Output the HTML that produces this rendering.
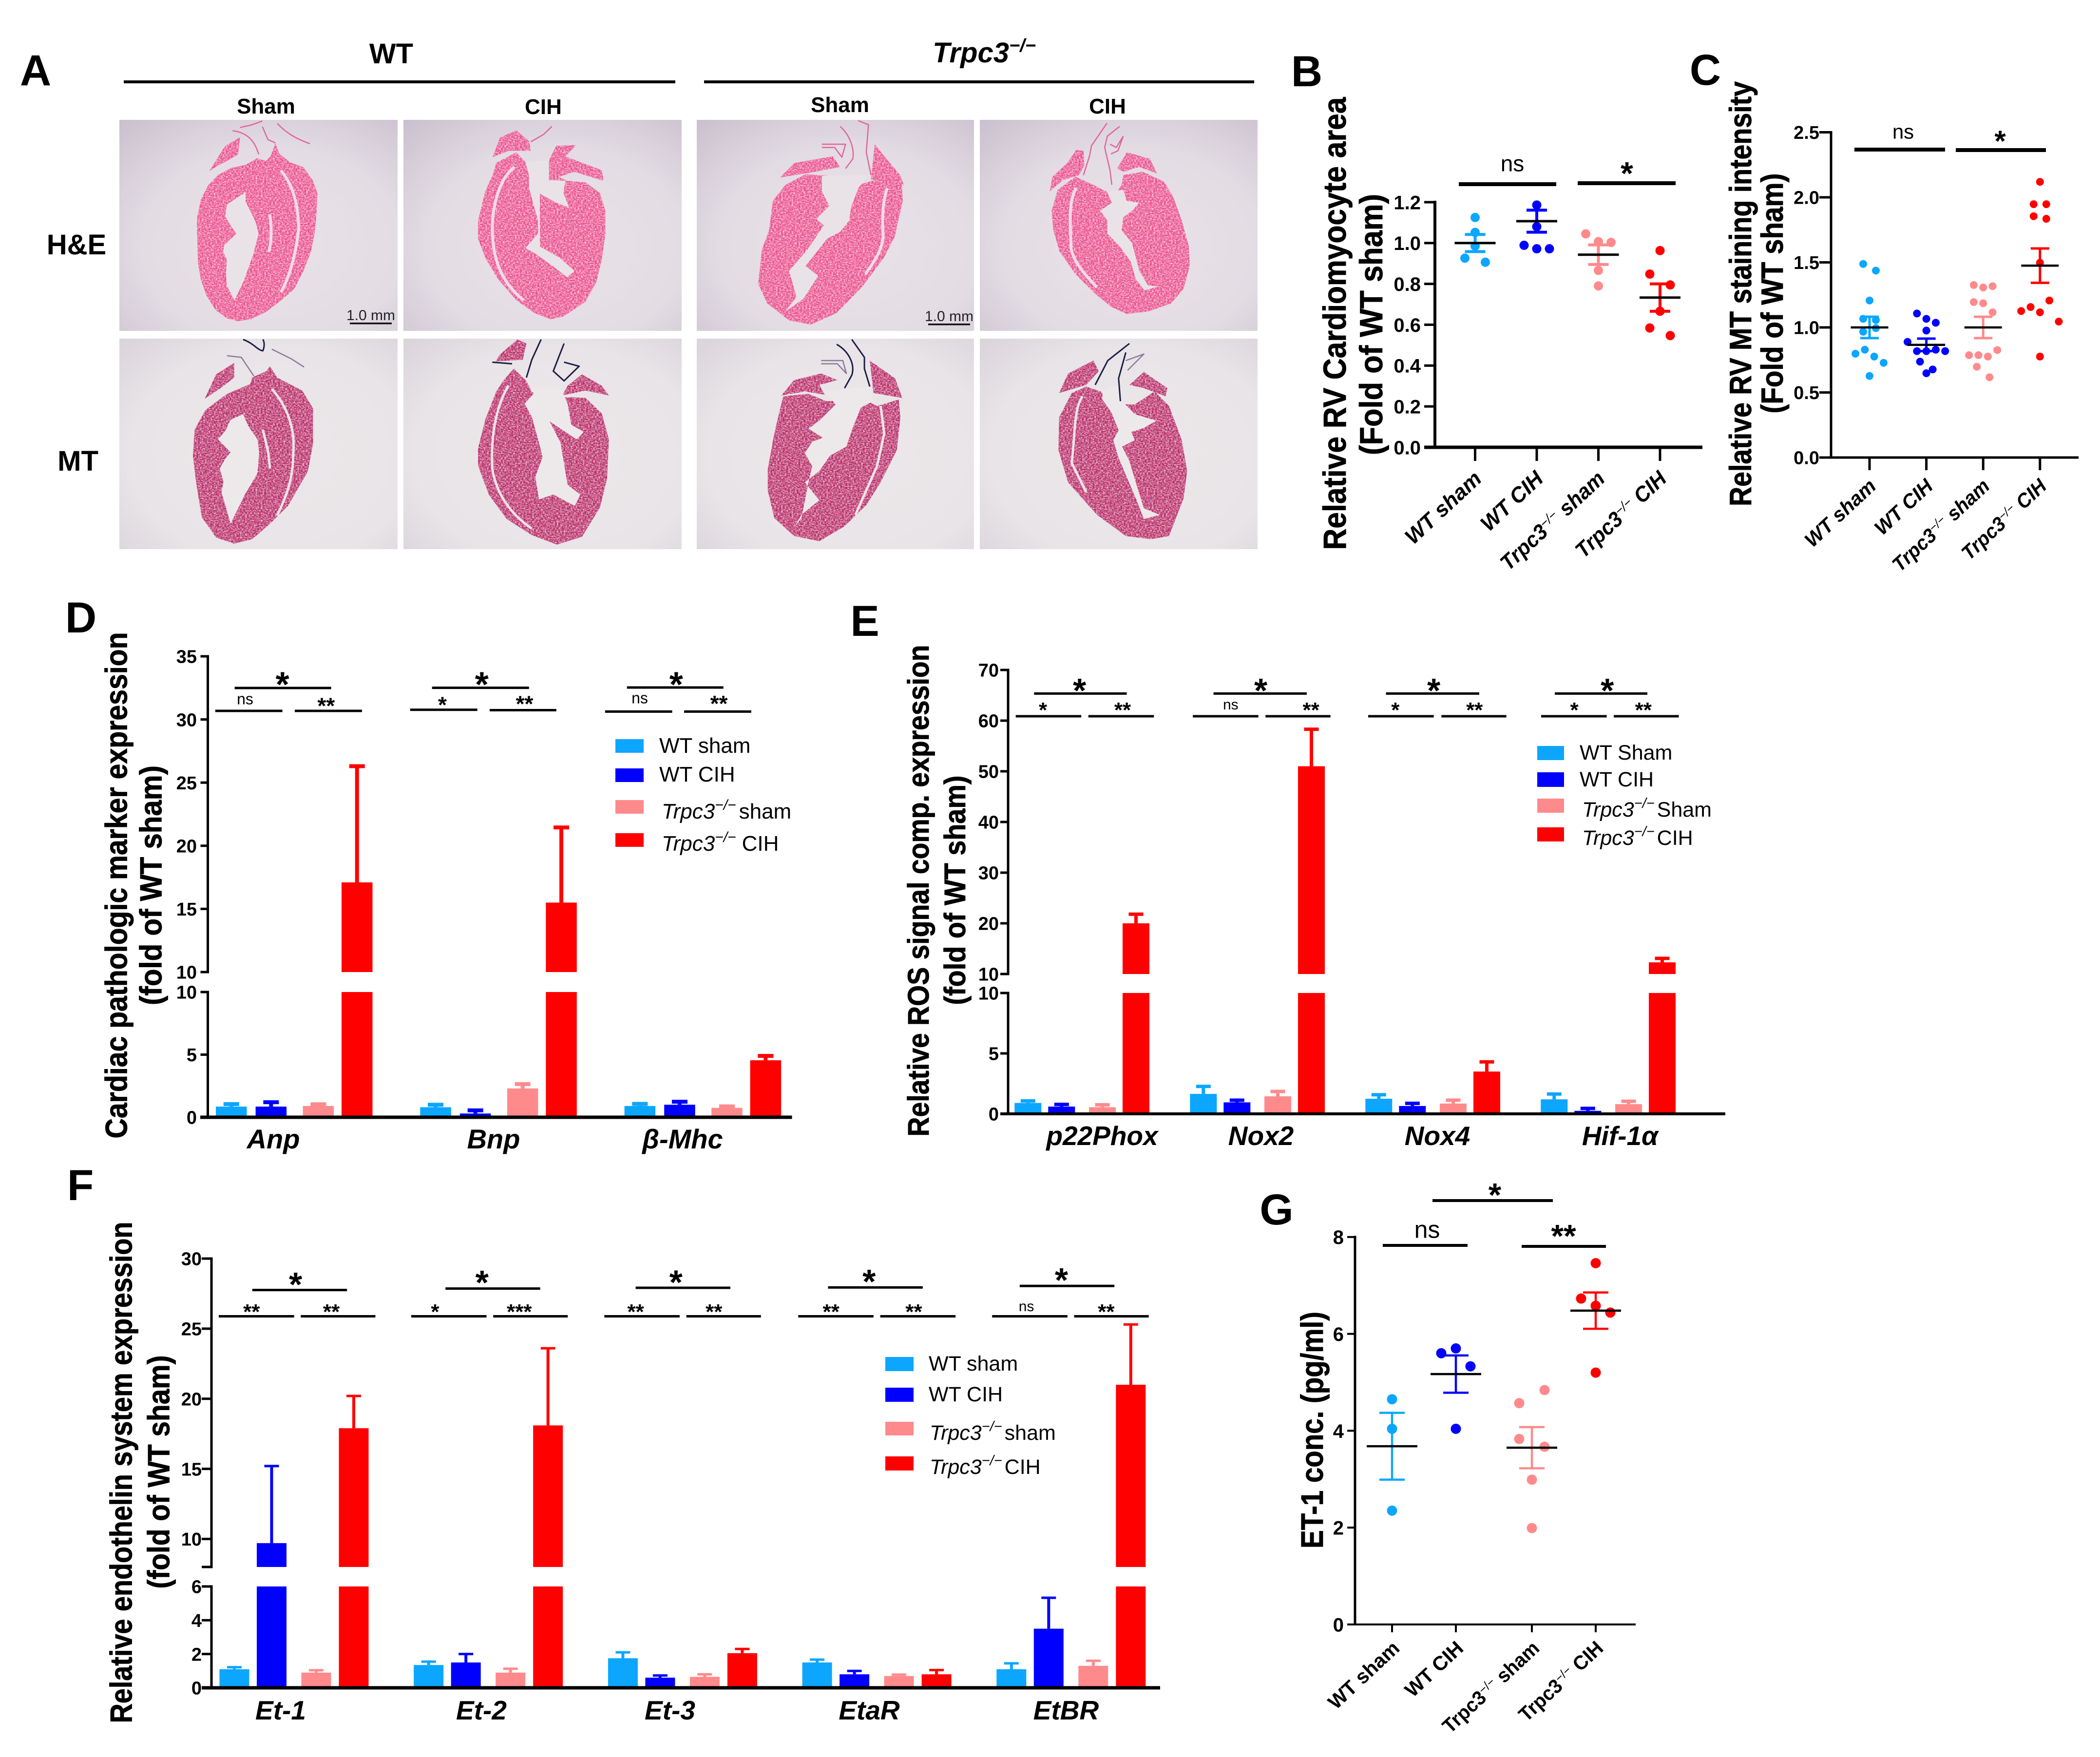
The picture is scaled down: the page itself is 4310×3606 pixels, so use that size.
<!DOCTYPE html>
<html lang="en">
<head>
<meta charset="utf-8">
<title>Trpc3 cardiac figure</title>
<style>
html,body{margin:0;padding:0;background:#fff;}
svg{display:block;font-family:"Liberation Sans",sans-serif;}
.nss path{vector-effect:non-scaling-stroke;stroke-linejoin:round;}
.he-cav{fill:#e9e3e8;stroke:none;}
.mt-cav{fill:#ede9eb;stroke:none;}
.he-slit{fill:none;stroke:#f0dce6;stroke-width:6;}
.mt-slit{fill:none;stroke:#ede3e8;stroke-width:5;}
.he-ves{fill:none;stroke:#e2659a;stroke-width:2.5;}
.mt-ves{fill:none;stroke:#1c1d45;stroke-width:3;}
.mt-ves2{fill:none;stroke:#8a7a98;stroke-width:2.5;}
</style>
</head>
<body>
<svg id="figure" xmlns="http://www.w3.org/2000/svg" width="4310" height="3606" viewBox="0 0 4310 3606">
<defs>
<radialGradient id="bg-top" cx=".55" cy=".6" r=".85">
<stop offset="0" stop-color="#e9e3e8"/><stop offset=".55" stop-color="#e3dce3"/><stop offset="1" stop-color="#c7bccc"/>
</radialGradient>
<radialGradient id="bg-bottom" cx=".55" cy=".55" r=".85">
<stop offset="0" stop-color="#ece8ea"/><stop offset=".6" stop-color="#e8e4e7"/><stop offset="1" stop-color="#d6cfd7"/>
</radialGradient>
<filter id="mottle" x="0" y="0" width="1" height="1" color-interpolation-filters="sRGB">
<feTurbulence type="fractalNoise" baseFrequency=".28 .4" numOctaves="2" seed="3" result="n"/>
<feColorMatrix in="n" type="matrix" values="0 0 0 0 1  0 0 0 0 1  0 0 0 0 1  1.6 0 0 0 -.55" result="w"/>
<feComposite in="w" in2="SourceAlpha" operator="in" result="c"/>
<feMerge><feMergeNode in="SourceGraphic"/><feMergeNode in="c"/></feMerge>
</filter>
</defs>

<rect width="4310" height="3606" fill="#fff"/>

<g id="panel-a">
<rect x="245" y="246" width="571" height="433" fill="url(#bg-top)"/>
<rect x="828" y="246" width="571" height="433" fill="url(#bg-top)"/>
<rect x="1430" y="246" width="569" height="433" fill="url(#bg-top)"/>
<rect x="2011" y="246" width="570" height="433" fill="url(#bg-top)"/>
<rect x="245" y="695" width="571" height="432" fill="url(#bg-bottom)"/>
<rect x="828" y="695" width="571" height="432" fill="url(#bg-bottom)"/>
<rect x="1430" y="695" width="569" height="432" fill="url(#bg-bottom)"/>
<rect x="2011" y="695" width="570" height="432" fill="url(#bg-bottom)"/>

<!-- H&E WT sham -->
<g>
<g filter="url(#mottle)" fill="#ea4e8b"><g transform="translate(240 240) scale(.3827 .3333)">
<path d="M850,160 L870,225 L930,280 L1000,310 L1050,390 L1075,470 L1070,600 L1060,720 L1040,830 L1000,950 L950,1060 L880,1130 L800,1200 L720,1245 L650,1258 L590,1240 L530,1190 L480,1100 L450,1000 L435,900 L430,720 L430,620 L450,510 L490,420 L540,360 L610,315 L690,295 L750,255 L800,270 L825,240 Z"/>
<path d="M495,335 L530,270 L580,180 L660,125 L650,230 L600,265 L540,300 Z"/>
</g></g>
<g class="nss" transform="translate(240 240) scale(.3827 .3333)">
<path class="he-cav" d="M690,465 L640,500 L590,540 L580,610 L600,650 L640,720 L575,790 L570,830 L590,880 L585,960 L590,1040 L630,1130 L680,1010 L730,850 L760,720 L745,650 L720,590 L690,520 Z"/>
<path class="he-slit" d="M880,330 C930,400 970,500 975,680 C965,800 940,950 880,1080"/>
<path class="he-slit" d="M820,600 C830,680 830,760 815,830"/>
<path class="he-ves" d="M620,85 C700,95 740,150 760,230 M660,65 L720,50 L780,25 M780,60 L810,140 L850,160 M860,40 C900,90 950,130 1035,165"/>
</g>
</g>
<!-- H&E WT CIH -->
<g>
<g filter="url(#mottle)" fill="#ea4e8b"><g transform="translate(828 246) scale(.7468 .3333)">
<path d="M255,265 L310,200 L335,260 L450,375 L500,385 L540,450 L555,560 L555,700 L545,860 L530,1000 L500,1120 L440,1210 L405,1228 L360,1190 L310,1110 L260,980 L225,850 L205,730 L205,620 L225,440 L245,340 Z"/>
<path d="M245,230 L265,110 L310,65 L345,130 L350,190 L290,190 Z"/>
<path d="M400,250 L420,160 L475,155 L445,225 L545,310 L550,375 L470,320 L400,370 Z"/>
</g></g>
<g class="nss" transform="translate(828 246) scale(.7468 .3333)">
<path class="he-cav" d="M335,260 L400,250 L400,370 L445,375 L440,450 L455,540 L420,510 L375,455 L375,560 L375,780 L430,850 L470,930 L450,970 L410,900 L360,820 L335,790 L370,700 L370,620 L345,420 L345,340 Z"/>
<path class="he-slit" d="M305,290 C260,370 240,560 245,720 C250,900 280,1020 330,1110"/>
<path class="he-ves" d="M350,135 L385,90 L408,40"/>
</g>
</g>
<!-- H&E KO sham -->
<g>
<g filter="url(#mottle)" fill="#ea4e8b"><g transform="translate(828 246) scale(.7468 .3333)">
<path d="M1105,335 L1170,345 L1250,400 L1290,375 L1370,395 L1372,500 L1350,720 L1320,850 L1260,1030 L1190,1190 L1120,1260 L1060,1235 L1000,1130 L975,1010 L985,800 L1005,680 L1015,500 L1050,400 Z"/>
<path d="M1035,355 L1075,265 L1180,225 L1200,290 L1130,320 Z"/>
<path d="M1295,150 L1335,260 L1365,340 L1375,400 L1285,370 Z"/>
</g></g>
<g class="nss" transform="translate(828 246) scale(.7468 .3333)">
<path class="he-cav" d="M1150,345 L1280,340 L1250,420 L1230,540 L1225,620 L1200,690 L1165,730 L1130,830 L1105,900 L1140,960 L1100,1100 L1050,1180 L1080,1090 L1060,930 L1110,800 L1155,650 L1135,610 L1170,530 L1150,440 Z"/>
<path class="he-slit" d="M1330,420 C1320,480 1315,560 1318,700 C1320,800 1290,880 1270,950"/>
<path class="he-ves" d="M1200,40 C1225,90 1240,170 1235,240 L1215,300 M1250,5 L1278,30 L1272,200 L1285,340 M1150,150 L1215,150 L1205,230 L1185,170 L1150,170"/>
</g>
</g>
<!-- H&E KO CIH -->
<g>
<g filter="url(#mottle)" fill="#ea4e8b"><g transform="translate(2011 246) scale(.3635 .3333)">
<path d="M540,350 L640,400 L720,445 L745,500 L800,400 L810,340 L920,320 L1040,380 L1090,470 L1140,620 L1180,780 L1185,900 L1150,1040 L1080,1130 L950,1180 L830,1195 L740,1150 L650,1070 L540,950 L450,810 L415,680 L405,560 L440,430 Z"/>
<path d="M395,440 L410,350 L490,270 L545,185 L585,190 L590,280 L560,340 L470,370 Z"/>
<path d="M775,300 L830,200 L960,240 L1000,330 L900,290 L810,320 Z"/>
</g></g>
<g class="nss" transform="translate(2011 246) scale(.3635 .3333)">
<path class="he-cav" d="M720,445 L810,430 L830,500 L900,510 L860,560 L810,600 L800,680 L860,760 L900,930 L950,1020 L1010,1025 L930,1050 L880,980 L850,870 L790,780 L720,700 L720,620 L680,560 L745,510 Z"/>
<path class="he-slit" d="M545,420 C500,500 510,620 515,790 C530,880 600,960 660,1030"/>
<path class="he-ves" d="M718,20 L630,160 L620,220 L585,340 M790,40 L720,100 L705,170 L735,310 L745,400 M810,100 L780,190 L740,210 M735,150 L770,170 L810,100"/>
</g>
</g>
<!-- MT WT sham -->
<g>
<g filter="url(#mottle)" fill="#b82a66"><g transform="translate(245 695) scale(.736 .3333)">
<path d="M420,170 L440,240 L510,320 L540,430 L540,650 L525,820 L470,1030 L420,1140 L370,1235 L320,1262 L270,1225 L230,1100 L215,900 L205,720 L210,560 L240,440 L300,340 L365,280 L370,240 L410,200 Z"/>
<path d="M238,370 L270,220 L320,150 L320,240 L285,300 Z"/>
</g></g>
<g class="nss" transform="translate(245 695) scale(.736 .3333)">
<path class="mt-cav" d="M345,465 L310,500 L295,570 L275,620 L310,700 L295,740 L280,800 L290,880 L285,950 L300,1060 L310,1140 L350,960 L385,830 L390,700 L385,620 L360,540 Z"/>
<path class="mt-slit" d="M425,310 C470,420 490,560 485,700 C485,850 470,950 440,1090"/>
<path class="mt-slit" d="M400,560 L415,700 L420,800"/>
<path class="mt-ves" d="M345,5 C375,30 385,70 400,75 C405,50 405,20 400,5"/>
<path class="mt-ves2" d="M300,105 L340,115 L375,230 M425,65 L480,125 L515,175"/>
</g>
</g>
<!-- MT WT CIH -->
<g>
<g filter="url(#mottle)" fill="#b82a66"><g transform="translate(245 695) scale(.736 .3333)">
<path d="M1100,185 L1135,260 L1150,330 L1240,360 L1300,365 L1345,460 L1365,620 L1360,860 L1340,1040 L1290,1220 L1220,1268 L1150,1210 L1080,1110 L1030,960 L1000,780 L1000,680 L1020,500 L1050,330 L1070,260 Z"/>
<path d="M1060,100 L1110,5 L1135,30 L1125,130 L1050,140 Z"/>
<path d="M1235,350 L1250,290 L1290,220 L1345,290 L1365,350 L1300,320 Z"/>
</g></g>
<g class="nss" transform="translate(245 695) scale(.736 .3333)">
<path class="mt-cav" d="M1150,300 L1230,300 L1250,400 L1260,530 L1295,575 L1275,620 L1200,510 L1230,640 L1250,900 L1285,960 L1270,1030 L1210,960 L1170,990 L1160,850 L1180,730 L1170,640 L1150,480 L1130,400 L1155,340 Z"/>
<path class="mt-slit" d="M1085,290 C1050,420 1035,600 1040,800 C1050,950 1090,1080 1150,1170"/>
<path class="mt-ves" d="M1176,5 L1150,130 L1135,240 M1240,30 L1210,200 L1240,260 L1282,170 L1240,145 M1040,145 L1095,155"/>
</g>
</g>
<!-- MT KO sham -->
<g>
<g filter="url(#mottle)" fill="#b82a66"><g transform="translate(1430 690) scale(.74 .3333)">
<path d="M240,370 L310,355 L360,400 L470,395 L500,430 L560,390 L565,500 L555,700 L510,900 L470,1040 L410,1170 L340,1262 L270,1230 L215,1120 L197,950 L197,820 L215,600 L230,460 Z"/>
<path d="M235,365 L270,270 L345,230 L390,270 L340,300 L355,360 L300,340 Z"/>
<path d="M480,150 L550,260 L570,380 L490,350 Z"/>
</g></g>
<g class="nss" transform="translate(1430 690) scale(.74 .3333)">
<path class="mt-cav" d="M355,340 L480,310 L490,400 L455,440 L430,580 L415,680 L370,735 L340,830 L300,900 L340,1010 L290,1100 L270,1180 L290,1120 L310,900 L320,800 L300,720 L320,650 L350,625 L310,570 L340,520 L385,420 Z"/>
<path class="mt-slit" d="M510,430 L520,600 L500,800 L440,1100"/>
<path class="mt-ves" d="M388,50 C420,90 440,170 430,240 L410,320 M430,20 L465,130 L465,200 L480,310"/>
<path class="mt-ves2" d="M345,150 L405,150 L415,230 L390,170 L345,170"/>
</g>
</g>
<!-- MT KO CIH -->
<g>
<g filter="url(#mottle)" fill="#b82a66"><g transform="translate(1430 690) scale(.74 .3333)">
<path d="M1080,310 L1120,340 L1160,420 L1215,420 L1270,340 L1310,430 L1345,640 L1360,830 L1350,1000 L1310,1230 L1260,1250 L1190,1230 L1110,1100 L1030,900 L1003,700 L1005,500 L1040,350 Z"/>
<path d="M1005,350 L1030,230 L1100,150 L1115,215 L1080,300 Z"/>
<path d="M1200,300 L1240,220 L1305,320 L1300,370 L1240,320 Z"/>
</g></g>
<g class="nss" transform="translate(1430 690) scale(.74 .3333)">
<path class="mt-cav" d="M1125,330 L1170,300 L1180,400 L1215,480 L1275,520 L1240,565 L1205,590 L1215,640 L1180,680 L1200,770 L1215,880 L1240,1060 L1285,1100 L1240,1125 L1220,1010 L1170,750 L1155,640 L1170,580 L1150,470 L1125,390 Z"/>
<path class="mt-slit" d="M1070,370 C1045,450 1050,600 1040,780 L1080,960"/>
<path class="mt-ves" d="M1200,45 L1140,150 L1105,300 M1190,100 L1170,260 L1175,400"/>
<path class="mt-ves2" d="M1190,150 L1240,110 L1195,210"/>
</g>
</g>

<rect x="718" y="662" width="86" height="3.5" fill="#111"/>
<rect x="1905" y="664" width="86" height="3.5" fill="#111"/>
<text x="761" y="657" font-size="30" text-anchor="middle" fill="#222">1.0 mm</text>
<text x="1948" y="659" font-size="30" text-anchor="middle" fill="#222">1.0 mm</text>
<rect x="254" y="165" width="1132" height="6" fill="#000"/>
<rect x="1445" y="165" width="1129" height="6" fill="#000"/>
<text x="803" y="130" font-size="58" font-weight="bold" text-anchor="middle">WT</text>
<text x="2020" y="128" font-size="58" font-weight="bold" font-style="italic" text-anchor="middle">Trpc3<tspan dy="-22" font-size="38">−/−</tspan></text>
<text x="546" y="233" font-size="44" font-weight="bold" text-anchor="middle">Sham</text>
<text x="1115" y="234" font-size="44" font-weight="bold" text-anchor="middle">CIH</text>
<text x="1724" y="230" font-size="44" font-weight="bold" text-anchor="middle">Sham</text>
<text x="2273" y="233" font-size="44" font-weight="bold" text-anchor="middle">CIH</text>
<text x="157" y="522" font-size="58" font-weight="bold" text-anchor="middle">H&amp;E</text>
<text x="160" y="966" font-size="58" font-weight="bold" text-anchor="middle">MT</text>
</g>

<g font-size="89" font-weight="bold" text-anchor="middle">
<text x="73" y="175">A</text>
<text x="2682" y="177">B</text>
<text x="3500" y="174">C</text>
<text x="166" y="1298">D</text>
<text x="1775" y="1305">E</text>
<text x="165" y="2463">F</text>
<text x="2620" y="2513">G</text>
</g>

<g font-weight="bold" text-anchor="middle" stroke="#000" stroke-width=".8">
<text transform="translate(2738 664) rotate(-90) scale(1 1.1)" dy=".36em" font-size="60" textLength="929" lengthAdjust="spacingAndGlyphs">Relative RV Cardiomyocyte area</text>
<text transform="translate(2813 666) rotate(-90) scale(1 1.1)" dy=".36em" font-size="60" textLength="536" lengthAdjust="spacingAndGlyphs">(Fold of WT sham)</text>
<text transform="translate(3571 603) rotate(-90) scale(1 1.15)" dy=".36em" font-size="55" textLength="872" lengthAdjust="spacingAndGlyphs">Relative RV MT staining intensity</text>
<text transform="translate(3636 602) rotate(-90) scale(1 1.15)" dy=".36em" font-size="55" textLength="493" lengthAdjust="spacingAndGlyphs">(Fold of WT sham)</text>
<text transform="translate(238 1817) rotate(-90) scale(1 1.12)" dy=".36em" font-size="56" textLength="1039" lengthAdjust="spacingAndGlyphs">Cardiac pathologic marker expression</text>
<text transform="translate(309 1817) rotate(-90) scale(1 1.12)" dy=".36em" font-size="56" textLength="492" lengthAdjust="spacingAndGlyphs">(fold of WT sham)</text>
<text transform="translate(1884 1828) rotate(-90) scale(1 1.12)" dy=".36em" font-size="55" textLength="1009" lengthAdjust="spacingAndGlyphs">Relative ROS signal comp. expression</text>
<text transform="translate(1959 1827) rotate(-90) scale(1 1.12)" dy=".36em" font-size="55" textLength="471" lengthAdjust="spacingAndGlyphs">(fold of WT sham)</text>
<text transform="translate(248 3022) rotate(-90) scale(1 1.12)" dy=".36em" font-size="56" textLength="1029" lengthAdjust="spacingAndGlyphs">Relative endothelin system expression</text>
<text transform="translate(325 3021) rotate(-90) scale(1 1.12)" dy=".36em" font-size="56" textLength="479" lengthAdjust="spacingAndGlyphs">(fold of WT sham)</text>
<text transform="translate(2692 2935) rotate(-90) scale(1 1.15)" dy=".36em" font-size="56" textLength="486" lengthAdjust="spacingAndGlyphs">ET-1 conc. (pg/ml)</text>
</g>

<g font-size="44">
<rect x="1263" y="1517" width="58" height="28" fill="#0ca6ff"/>
<rect x="1263" y="1577" width="58" height="28" fill="#0000ff"/>
<rect x="1263" y="1642" width="58" height="28" fill="#ff8a8c"/>
<rect x="1263" y="1710" width="58" height="28" fill="#ff0000"/>
<text x="1353" y="1545">WT sham</text>
<text x="1353" y="1604">WT CIH</text>
<text x="1358" y="1680"><tspan font-style="italic">Trpc3</tspan><tspan dy="-18" font-size="30" font-style="italic">−/−</tspan><tspan dy="18" dx="6">sham</tspan></text>
<text x="1358" y="1746"><tspan font-style="italic">Trpc3</tspan><tspan dy="-18" font-size="30" font-style="italic">−/−</tspan><tspan dy="18" dx="12">CIH</tspan></text>
</g>
<g font-size="43">
<rect x="3155" y="1531" width="55" height="29" fill="#0ca6ff"/>
<rect x="3155" y="1585" width="55" height="30" fill="#0000ff"/>
<rect x="3155" y="1639" width="55" height="29" fill="#ff8a8c"/>
<rect x="3155" y="1698" width="55" height="29" fill="#ff0000"/>
<text x="3242" y="1559">WT Sham</text>
<text x="3242" y="1614">WT CIH</text>
<text x="3247" y="1676"><tspan font-style="italic">Trpc3</tspan><tspan dy="-18" font-size="29" font-style="italic">−/−</tspan><tspan dy="18" dx="5">Sham</tspan></text>
<text x="3247" y="1734"><tspan font-style="italic">Trpc3</tspan><tspan dy="-18" font-size="29" font-style="italic">−/−</tspan><tspan dy="18" dx="5">CIH</tspan></text>
</g>
<g font-size="43">
<rect x="1817" y="2785" width="58" height="29" fill="#0ca6ff"/>
<rect x="1817" y="2848" width="58" height="29" fill="#0000ff"/>
<rect x="1817" y="2918" width="58" height="28" fill="#ff8a8c"/>
<rect x="1817" y="2989" width="58" height="29" fill="#ff0000"/>
<text x="1906" y="2813">WT sham</text>
<text x="1906" y="2876">WT CIH</text>
<text x="1908" y="2955"><tspan font-style="italic">Trpc3</tspan><tspan dy="-18" font-size="29" font-style="italic">−/−</tspan><tspan dy="18" dx="5">sham</tspan></text>
<text x="1908" y="3025"><tspan font-style="italic">Trpc3</tspan><tspan dy="-18" font-size="29" font-style="italic">−/−</tspan><tspan dy="18" dx="5">CIH</tspan></text>
</g>
<g id="charts"></g>
</svg>

<script>
// ---------- Panel B data ----------
const groupNames = ['WT sham', 'WT CIH', 'Trpc3−/− sham', 'Trpc3−/− CIH'];
const bTicks = [0, 0.2, 0.4, 0.6, 0.8, 1.0, 1.2];
const bWtSham = [1.125, 1.052, 0.985, 0.926, 0.906];
const bWtCih = [1.186, 1.08, 0.989, 0.972, 0.972];
const bKoSham = [1.045, 1.007, 1.003, 0.866, 0.79];
const bKoCih = [0.963, 0.848, 0.795, 0.666, 0.584, 0.547];
const bMeans = [1.0, 1.107, 0.943, 0.733];
const bSem = [0.042, 0.054, 0.048, 0.067];
// ---------- Panel C data ----------
const cTicks = [0, 0.5, 1.0, 1.5, 2.0, 2.5];
const cWtSham = [1.488, 1.437, 1.207, 1.066, 1.057, 0.967, 0.995, 0.798, 0.829, 0.776, 0.728, 0.627];
const cWtCih = [1.107, 1.066, 1.036, 0.976, 0.889, 0.818, 0.818, 0.829, 0.818, 0.737, 0.677, 0.648];
const cKoSham = [1.326, 1.307, 1.317, 1.195, 1.186, 1.116, 0.787, 0.787, 0.776, 0.826, 0.698, 0.617];
const cKoCih = [2.119, 1.947, 1.947, 1.855, 1.835, 1.497, 1.126, 1.157, 1.116, 1.207, 1.045, 0.776];
const cMeans = [1.0, 0.866, 1.0, 1.475];
const cSem = [0.082, 0.048, 0.082, 0.132];
// ---------- Panel G data ----------
const gTicks = [0, 2, 4, 6, 8];
const gWtSham = [4.65, 4.04, 2.35];
const gWtCih = [5.6, 5.7, 5.33, 4.04];
const gKoSham = [4.57, 4.84, 3.83, 3.67, 2.99, 1.99];
const gKoCih = [7.46, 6.73, 6.58, 6.44, 5.2];
const gMeans = [3.68, 5.17, 3.65, 6.48];
const gSem = [0.69, 0.385, 0.425, 0.375];
// ---------- Panel D data ----------
const dGenes = ['Anp', 'Bnp', 'β-Mhc'];
const dTicksLower = [0, 5, 10];
const dTicksUpper = [10, 15, 20, 25, 30, 35];
const dWtSham = [0.85, 0.8, 0.9];
const dWtShamErr = [0.2, 0.2, 0.17];
const dWtCih = [0.85, 0.3, 1.0];
const dWtCihErr = [0.35, 0.25, 0.24];
const dKoSham = [0.9, 2.3, 0.75];
const dKoShamErr = [0.14, 0.35, 0.12];
const dKoCih = [17.1, 15.5, 4.55];
const dKoCihErr = [9.2, 5.95, 0.35];
const dSigLabels = ['*', 'ns', '**', '*', '*', '**', '*', 'ns', '**'];
// ---------- Panel E data ----------
const eGenes = ['p22Phox', 'Nox2', 'Nox4', 'Hif-1α'];
const eTicksLower = [0, 5, 10];
const eTicksUpper = [10, 20, 30, 40, 50, 60, 70];
const eWtSham = [0.9, 1.65, 1.25, 1.2];
const eWtShamErr = [0.17, 0.62, 0.33, 0.44];
const eWtCih = [0.6, 0.95, 0.65, 0.25];
const eWtCihErr = [0.18, 0.18, 0.22, 0.2];
const eKoSham = [0.55, 1.45, 0.85, 0.8];
const eKoShamErr = [0.2, 0.4, 0.28, 0.24];
const eKoCih = [20, 51, 3.5, 12.3];
const eKoCihErr = [1.8, 7.3, 0.8, 0.78];
const eSigLabels = ['*', '*', '**', '*', 'ns', '**', '*', '*', '**', '*', '*', '**'];
// ---------- Panel F data ----------
const fGenes = ['Et-1', 'Et-2', 'Et-3', 'EtaR', 'EtBR'];
const fTicksLower = [0, 2, 4, 6];
const fTicksUpper = [8, 10, 15, 20, 25, 30];
const fTickLabelsUpper = ['', '10', '15', '20', '25', '30'];
const fWtSham = [1.1, 1.35, 1.75, 1.5, 1.1];
const fWtShamErr = [0.12, 0.2, 0.35, 0.17, 0.35];
const fWtCih = [9.7, 1.5, 0.6, 0.8, 3.5];
const fWtCihErr = [5.5, 0.5, 0.13, 0.2, 1.83];
const fKoSham = [0.9, 0.9, 0.65, 0.7, 1.3];
const fKoShamErr = [0.14, 0.23, 0.15, 0.08, 0.3];
const fKoCih = [17.9, 18.1, 2.05, 0.8, 21.0];
const fKoCihErr = [2.3, 5.5, 0.25, 0.25, 4.3];
const fSigLabels = ['*', '**', '**', '*', '*', '***', '*', '**', '**', '*', '**', '**', '*', 'ns', '**'];

const COLORS = ['#0ca6ff', '#0000ff', '#ff8a8c', '#ff0000'];
const SERIES_KEYS = ['wt-sham', 'wt-cih', 'ko-sham', 'ko-cih'];
const root = document.getElementById('charts');
const SVGNS = 'http://www.w3.org/2000/svg';

function mk(parent, tag, name, attrs, text) {
  const el = document.createElementNS(SVGNS, tag);
  
  
  for (const k in attrs) el.setAttribute(k, attrs[k]);
  if (text !== undefined) el.textContent = text;
  parent.appendChild(el);
  return el;
}
function hLine(p, name, x1, x2, y, w, color) {
  return mk(p, 'rect', name, { x: x1, y: y - w / 2, width: x2 - x1, height: w, fill: color });
}
function vLine(p, name, x, y1, y2, w, color) {
  return mk(p, 'rect', name, { x: x - w / 2, y: Math.min(y1, y2), width: w, height: Math.abs(y2 - y1), fill: color });
}
function sigLabel(p, x, y, label, size) {
  const ns = label === 'ns';
  mk(p, 'text', 'significance-label', {
    x: x, y: y + (ns ? 0.27 : 0.55) * size, 'font-size': size,
    'font-weight': ns ? 'normal' : 'bold', 'text-anchor': 'middle'
  }, label);
}
function bracket(p, x1, x2, y, w) { hLine(p, 'significance-bracket', x1, x2, y, w, '#000'); }

function swarmOffsets(values, yScale, cfg) {
  const out = [];
  let i = 0;
  while (i < values.length) {
    let j = i + 1;
    while (j < values.length && Math.abs(yScale(values[i]) - yScale(values[j])) <= cfg.binPx) j++;
    const n = j - i;
    for (let m = 0; m < n; m++) {
      if (n === 1) out.push(0);
      else if (n === 2) out.push(m === 0 ? -cfg.pairPx : cfg.pairPx);
      else out.push((m - (n - 1) / 2) * cfg.stepPx);
    }
    i = j;
  }
  return out;
}

function addCategoryLabel(p, x, y, label, cfg) {
  const idx = label.indexOf('−/−');
  const squeeze = idx < 0 ? '' : ' scale(.96 1)';
  const attrs = {
    transform: 'translate(' + x + ' ' + y + ') rotate(' + cfg.angle + ')' + squeeze,
    'text-anchor': 'end', 'font-size': cfg.labelSize, 'font-weight': 'bold'
  };
  if (cfg.italic) attrs['font-style'] = 'italic';
  const t = mk(p, 'text', 'x-tick-label', attrs);
  if (idx < 0) { t.textContent = label; return; }
  const a = document.createElementNS(SVGNS, 'tspan');
  a.textContent = label.slice(0, idx);
  const b = document.createElementNS(SVGNS, 'tspan');
  b.setAttribute('dy', -cfg.labelSize * 0.32);
  b.setAttribute('font-size', cfg.labelSize * 0.62);
  b.setAttribute('font-weight', 'normal');
  b.textContent = '−/−';
  const c = document.createElementNS(SVGNS, 'tspan');
  c.setAttribute('dy', cfg.labelSize * 0.32);
  c.textContent = label.slice(idx + 3);
  t.appendChild(a); t.appendChild(b); t.appendChild(c);
}

function scatterChart(cfg, series, means, sem, ticks, cats, tickDigits) {
  const g = mk(root, 'g', cfg.name, {});
  const y = v => cfg.y0 - v * cfg.k;
  const x = i => cfg.x0 + i * cfg.dx + (i >= 2 ? cfg.gap : 0);
  vLine(g, 'y-axis-line', cfg.axisX, y(ticks[ticks.length - 1]) - cfg.yAxisW / 2, cfg.y0 + cfg.xAxisW / 2, cfg.yAxisW, '#000');
  hLine(g, 'x-axis-line', cfg.axisX - cfg.tickLen, cfg.xEnd, cfg.y0, cfg.xAxisW, '#000');
  ticks.forEach(t => {
    hLine(g, 'y-tick', cfg.axisX - cfg.tickLen, cfg.axisX, y(t), cfg.tickW, '#000');
    mk(g, 'text', 'y-tick-label', {
      x: cfg.tickLabelX, y: y(t) + cfg.tickSize * 0.36, 'font-size': cfg.tickSize,
      'font-weight': 'bold', 'text-anchor': 'end'
    }, t.toFixed(tickDigits));
  });
  cats.forEach((c, i) => {
    vLine(g, 'x-tick', x(i), cfg.y0, cfg.y0 + cfg.xTickLen, cfg.tickW, '#000');
    addCategoryLabel(g, x(i) + cfg.labelDx, cfg.y0 + cfg.labelDy, c, cfg);
  });
  series.forEach((vals, i) => {
    const off = swarmOffsets(vals, y, cfg);
    vals.forEach((v, j) => {
      mk(g, 'circle', 'dot-' + SERIES_KEYS[i], { cx: x(i) + off[j], cy: y(v), r: cfg.r, fill: COLORS[i] });
    });
    const top = y(means[i] + sem[i]), bot = y(means[i] - sem[i]);
    vLine(g, 'error-bar-' + SERIES_KEYS[i], x(i), top, bot, cfg.errW, COLORS[i]);
    hLine(g, 'error-cap-top-' + SERIES_KEYS[i], x(i) - cfg.capHalf, x(i) + cfg.capHalf, top, cfg.errW, COLORS[i]);
    hLine(g, 'error-cap-bottom-' + SERIES_KEYS[i], x(i) - cfg.capHalf, x(i) + cfg.capHalf, bot, cfg.errW, COLORS[i]);
    hLine(g, 'mean-line-' + SERIES_KEYS[i], x(i) - cfg.meanHalf, x(i) + cfg.meanHalf, y(means[i]), cfg.meanW, '#000');
  });
  return g;
}

function brokenBarChart(cfg, genes, means, errs, lowTicks, upTicks, upLabels) {
  const g = mk(root, 'g', cfg.name, {});
  const yLow = v => cfg.lowY0 - v * cfg.lowK;
  const yUp = v => cfg.upY0 - (v - cfg.upMin) * cfg.upK;
  const lowMax = lowTicks[lowTicks.length - 1];
  const yVal = v => (v <= lowMax ? yLow(v) : yUp(v));
  vLine(g, 'y-axis-lower', cfg.axisX, yLow(lowMax) - cfg.axisW / 2, cfg.lowY0, cfg.axisW, '#000');
  vLine(g, 'y-axis-upper', cfg.axisX, yUp(upTicks[upTicks.length - 1]) - cfg.axisW / 2, cfg.upY0 + cfg.axisW / 2, cfg.axisW, '#000');
  const tick = (v, yf, label) => {
    hLine(g, 'y-tick', cfg.axisX - cfg.tickLen, cfg.axisX, yf(v), cfg.axisW, '#000');
    if (label !== '') {
      mk(g, 'text', 'y-tick-label', {
        x: cfg.tickLabelX, y: yf(v) + cfg.tickSize * 0.36, 'font-size': cfg.tickSize,
        'font-weight': 'bold', 'text-anchor': 'end'
      }, label);
    }
  };
  lowTicks.forEach(t => tick(t, yLow, String(t)));
  upTicks.forEach((t, i) => tick(t, yUp, upLabels ? upLabels[i] : String(t)));
  genes.forEach((gene, gi) => {
    means.forEach((ser, si) => {
      const v = ser[gi];
      const top = v + errs[si][gi];
      const x = cfg.barX0 + gi * cfg.groupStep + cfg.barOffsets[si];
      const cx = x + cfg.barW / 2;
      const color = COLORS[si];
      const key = SERIES_KEYS[si];
      vLine(g, 'error-bar-' + key, cx, yVal(v), yVal(top), cfg.errW, color);
      hLine(g, 'error-cap-' + key, cx - cfg.capHalf, cx + cfg.capHalf, yVal(top), cfg.capW, color);
      mk(g, 'rect', 'bar-' + key, { x: x, y: yLow(Math.min(v, lowMax)), width: cfg.barW, height: cfg.lowY0 - yLow(Math.min(v, lowMax)), fill: color });
      if (v > lowMax) {
        mk(g, 'rect', 'bar-upper-' + key, { x: x, y: yUp(v), width: cfg.barW, height: cfg.upY0 - yUp(v), fill: color });
      }
    });
    mk(g, 'text', 'gene-label', {
      x: cfg.labelX[gi], y: cfg.labelY, 'font-size': cfg.labelSize, 'font-weight': 'bold',
      'font-style': 'italic', 'text-anchor': 'middle'
    }, gene);
  });
  hLine(g, 'x-axis-line', cfg.xStart, cfg.xEnd, cfg.lowY0, cfg.xAxisW, '#000');
  return g;
}

const chartB = scatterChart({
  name: 'chart-b-cardiomyocyte-area', y0: 918, k: 419.2, x0: 3027.5, dx: 126.5, gap: 0, axisX: 2945, xEnd: 3494,
  yAxisW: 6, xAxisW: 7, tickW: 5, tickLen: 22, xTickLen: 28, tickSize: 40, tickLabelX: 2916,
  r: 9.5, errW: 6, capHalf: 21, meanHalf: 42, meanW: 5, binPx: 23, stepPx: 26, pairPx: 21,
  angle: -43, labelSize: 44, italic: true, labelDx: 16, labelDy: 68
}, [bWtSham, bWtCih, bKoSham, bKoCih], bMeans, bSem, bTicks, groupNames, 1);

const chartC = scatterChart({
  name: 'chart-c-mt-staining', y0: 939, k: 267, x0: 3837, dx: 116.6, gap: 0, axisX: 3758, xEnd: 4266,
  yAxisW: 5, xAxisW: 5, tickW: 5, tickLen: 24, xTickLen: 26, tickSize: 38, tickLabelX: 3734,
  r: 8, errW: 5, capHalf: 19, meanHalf: 38.5, meanW: 4.5, binPx: 22, stepPx: 19.3, pairPx: 13,
  angle: -43, labelSize: 41, italic: true, labelDx: 16, labelDy: 62
}, [cWtSham, cWtCih, cKoSham, cKoCih], cMeans, cSem, cTicks, groupNames, 1);

const chartG = scatterChart({
  name: 'chart-g-et1-concentration', y0: 3334, k: 99.4, x0: 2857, dx: 131, gap: 25, axisX: 2781, xEnd: 3357,
  yAxisW: 5, xAxisW: 4, tickW: 4, tickLen: 16, xTickLen: 16, tickSize: 40, tickLabelX: 2758,
  r: 10.5, errW: 4.5, capHalf: 26, meanHalf: 52, meanW: 4.5, binPx: 40, stepPx: 30, pairPx: 26,
  angle: -43, labelSize: 41, italic: false, labelDx: 18, labelDy: 52
}, [gWtSham, gWtCih, gKoSham, gKoCih], gMeans, gSem, gTicks, groupNames, 0);

const chartD = brokenBarChart({
  name: 'chart-d-cardiac-markers', axisX: 426.5, axisW: 5, xAxisW: 7, xStart: 411, xEnd: 1625.5, tickLen: 15,
  tickLabelX: 404, tickSize: 38, lowY0: 2293, lowK: 25.7, upY0: 1995, upMin: 10, upK: 25.92,
  barX0: 443, groupStep: 419.3, barOffsets: [0, 81.6, 178.6, 258], barW: 63.5, errW: 8, capW: 8, capHalf: 16,
  labelX: [561, 1013, 1401], labelY: 2357, labelSize: 56
}, dGenes, [dWtSham, dWtCih, dKoSham, dKoCih], [dWtShamErr, dWtCihErr, dKoShamErr, dKoCihErr], dTicksLower, dTicksUpper);

const chartE = brokenBarChart({
  name: 'chart-e-ros-signal', axisX: 2069, axisW: 5, xAxisW: 6, xStart: 2053, xEnd: 3541, tickLen: 16,
  tickLabelX: 2050, tickSize: 38, lowY0: 2286, lowK: 24.8, upY0: 1999, upMin: 10, upK: 10.4,
  barX0: 2082.3, groupStep: 360, barOffsets: [0, 69, 152.7, 221.7], barW: 55, errW: 7, capW: 7, capHalf: 15,
  labelX: [2262, 2588, 2950, 3325], labelY: 2350, labelSize: 55
}, eGenes, [eWtSham, eWtCih, eKoSham, eKoCih], [eWtShamErr, eWtCihErr, eKoShamErr, eKoCihErr], eTicksLower, eTicksUpper);

const chartF = brokenBarChart({
  name: 'chart-f-endothelin-system', axisX: 434, axisW: 5, xAxisW: 7, xStart: 414, xEnd: 2381, tickLen: 20,
  tickLabelX: 414, tickSize: 38, lowY0: 3464, lowK: 34.67, upY0: 3216, upMin: 8, upK: 28.77,
  barX0: 450.5, groupStep: 398.7, barOffsets: [0, 76.5, 168, 245], barW: 61, errW: 6, capW: 5, capHalf: 15,
  labelX: [576, 988, 1375, 1784, 2188], labelY: 3529, labelSize: 55
}, fGenes, [fWtSham, fWtCih, fKoSham, fKoCih], [fWtShamErr, fWtCihErr, fKoShamErr, fKoCihErr], fTicksLower, fTicksUpper, fTickLabelsUpper);

bracket(chartB, 2994, 3194, 378, 8);
bracket(chartB, 3238, 3439, 376, 8);
sigLabel(chartB, 3104, 339, 'ns', 46);
sigLabel(chartB, 3339, 342, '*', 66);

bracket(chartC, 3806, 3992, 307, 8);
bracket(chartC, 4014, 4199, 308, 8);
sigLabel(chartC, 3906, 273, 'ns', 42);
sigLabel(chartC, 4105, 277, '*', 60);

bracket(chartG, 2940, 3187, 2464, 6);
bracket(chartG, 2838, 3012, 2556, 6);
bracket(chartG, 3123, 3296, 2558, 6);
sigLabel(chartG, 3068, 2438, '*', 68);
sigLabel(chartG, 2929, 2527, 'ns', 50);
sigLabel(chartG, 3209, 2523, '**', 66);

[[481.6, 679.6, 1412], [886.7, 1085.7, 1411.6], [1286.7, 1484.7, 1411],
 [441.8, 579.6, 1459], [605, 742.9, 1459], [841.8, 979.6, 1456.7], [1005, 1141.8, 1457.5],
 [1241.8, 1379.6, 1460.4], [1404, 1541.8, 1460.4]].forEach(b => bracket(chartD, b[0], b[1], b[2], 5));
const dSigX = [579.6, 503, 669.4, 988.8, 908, 1076.5, 1387.8, 1313, 1475.5];
const dSigY = [1390, 1437, 1439, 1390, 1437, 1435, 1390, 1435, 1434.5];
dSigLabels.forEach((l, i) => sigLabel(chartD, dSigX[i], dSigY[i], l, i % 3 === 0 ? 72 : (l === 'ns' ? 32 : 46)));

[[2122.3, 2312.5, 1423.4], [2490.6, 2682, 1423.4], [2844.5, 3035.9, 1423.4], [3191, 3381, 1423.4],
 [2084.7, 2219.2, 1470], [2233.8, 2368.3, 1470], [2448.2, 2582.7, 1470], [2597.3, 2730.6, 1470],
 [2808, 2942.6, 1470], [2958.4, 3091.6, 1470], [3163, 3297.6, 1470], [3312.2, 3445.5, 1470]
].forEach(b => bracket(chartE, b[0], b[1], b[2], 5));
const eSigX = [2215.6, 2140.5, 2304, 2587.6, 2525.8, 2690.6, 2942.6, 2863.8, 3026.2, 3298.8, 3231, 3372.8];
eSigLabels.forEach((l, i) => sigLabel(chartE, eSigX[i], i % 3 === 0 ? 1402.7 : 1447.9, l, i % 3 === 0 ? 70 : (l === 'ns' ? 30 : 44)));

[[517.8, 712.2, 2647.6], [914.3, 1108.7, 2644.6], [1304.6, 1499, 2643], [1699.5, 1893.9, 2642.3], [2092.8, 2287.2, 2639.2],
 [449, 603.6, 2701.5], [617.3, 770.4, 2701.5], [843.9, 998.5, 2701.5], [1012.2, 1165.3, 2701.5],
 [1240.3, 1394.9, 2701.5], [1408.7, 1561.7, 2701.5], [1638.3, 1792.8, 2701.5], [1806.6, 1961.2, 2701.5],
 [2036.2, 2190.8, 2701.5], [2204.6, 2357.6, 2701.5]].forEach(b => bracket(chartF, b[0], b[1], b[2], 5));
const fSigX = [606.6, 516.3, 680, 989.3, 892.9, 1065.8, 1387.2, 1304.6, 1465.3, 1783.7, 1705.6, 1875.5, 2178.5, 2106.6, 2270.4];
const fBigY = [2621.5, 2617.7, 2616.9, 2615.3, 2612.3];
fSigLabels.forEach((l, i) => sigLabel(chartF, fSigX[i], i % 3 === 0 ? fBigY[i / 3] : 2683, l, i % 3 === 0 ? 70 : (l === 'ns' ? 30 : 44)));
</script>
</body>
</html>
